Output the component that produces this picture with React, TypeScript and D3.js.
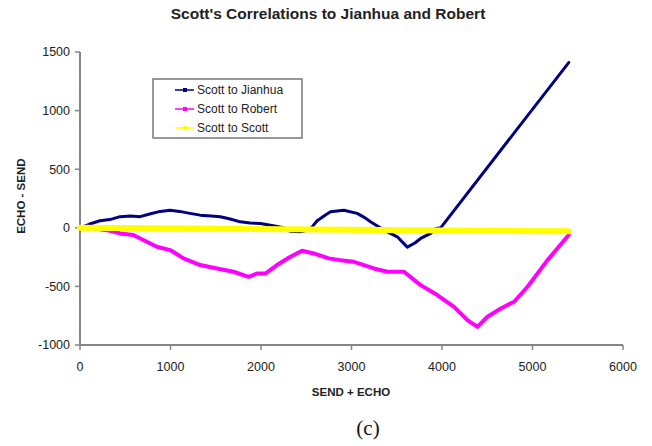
import React from "react";
import * as d3 from "d3";

const title = "Scott's Correlations to Jianhua and Robert";
const xTicks = [0, 1000, 2000, 3000, 4000, 5000, 6000];
const yTicks = [-1000, -500, 0, 500, 1000, 1500];
const seriesNames = ["Scott to Jianhua", "Scott to Robert", "Scott to Scott"];

const jianhuaX = [0, 100, 220, 330, 443, 560, 664, 780, 886, 996, 1100, 1200, 1328, 1450, 1550, 1660, 1771, 1880, 1993, 2120, 2250, 2325, 2436, 2520, 2565, 2620, 2657, 2712, 2768, 2915, 3063, 3150, 3210, 3358, 3506, 3560, 3617, 3700, 3764, 3875, 3930, 3985, 5400];
const jianhuaY = [0, 30, 60, 70, 95, 100, 95, 120, 140, 150, 140, 125, 108, 100, 94, 75, 51, 40, 37, 20, 0, -30, -34, -20, 8, 60, 80, 110, 137, 150, 123, 85, 51, -20, -77, -120, -165, -130, -91, -48, -5, 0, 1410];

const robertX = [0, 150, 295, 443, 590, 738, 848, 996, 1144, 1328, 1513, 1697, 1864, 1956, 2048, 2177, 2325, 2454, 2583, 2749, 2878, 3026, 3247, 3395, 3580, 3764, 3948, 4133, 4281, 4391, 4502, 4650, 4797, 4945, 5166, 5400];
const robertY = [0, -5, -20, -48, -62, -119, -162, -190, -261, -318, -347, -375, -418, -390, -390, -318, -247, -196, -219, -261, -276, -290, -347, -375, -375, -489, -574, -674, -788, -845, -759, -688, -631, -503, -276, -62];

const scottX = [0, 5400];
const scottY = [0, -30];

const colors = ["#000080", "#ff00ff", "#ffff00"];
const widths = [3, 4, 6];

export default function App() {
  const x = d3.scaleLinear().domain([0, 6000]).range([80, 623]);
  const y = d3.scaleLinear().domain([-1000, 1500]).range([345, 52]);
  const line = d3
    .line<[number, number]>()
    .x((d) => x(d[0]))
    .y((d) => y(d[1]));
  const series = [
    jianhuaX.map((v, i) => [v, jianhuaY[i]] as [number, number]),
    robertX.map((v, i) => [v, robertY[i]] as [number, number]),
    scottX.map((v, i) => [v, scottY[i]] as [number, number]),
  ];
  const font = "'Liberation Sans', Arial, sans-serif";
  const axisColor = "#858585";
  return (
    <svg
      width={652}
      height={446}
      style={{ position: "absolute", left: 0, top: 0, background: "#fff" }}
      fontFamily={font}
    >
      <rect x={0} y={0} width={652} height={446} fill="#fff" />
      <text x={328} y={19} textAnchor="middle" fontSize={15.5} fontWeight="bold" fill="#222">
        {title}
      </text>
      {/* axes */}
      <line x1={x(0)} x2={x(0)} y1={y(1500)} y2={y(-1000)} stroke={axisColor} strokeWidth={2} />
      <line x1={x(0)} x2={x(6000)} y1={y(-1000)} y2={y(-1000)} stroke={axisColor} strokeWidth={2} />
      {yTicks.map((t) => (
        <g key={"y" + t}>
          <line x1={x(0) - 5} x2={x(0)} y1={y(t)} y2={y(t)} stroke={axisColor} strokeWidth={1.5} />
          <text x={70} y={y(t)} dy="0.35em" textAnchor="end" fontSize={12.5} fill="#222">
            {t}
          </text>
        </g>
      ))}
      {xTicks.map((t) => (
        <g key={"x" + t}>
          <line x1={x(t)} x2={x(t)} y1={y(-1000)} y2={y(-1000) + 5} stroke={axisColor} strokeWidth={1.5} />
          <text x={x(t)} y={367} dy="0.35em" textAnchor="middle" fontSize={12.5} fill="#222">
            {t}
          </text>
        </g>
      ))}
      <text x={351} y={392} dy="0.35em" textAnchor="middle" fontSize={11.5} fontWeight="bold" fill="#222">
        SEND + ECHO
      </text>
      <text
        transform={`translate(21,${y(270)}) rotate(-90)`}
        dy="0.35em"
        textAnchor="middle"
        fontSize={11.5}
        fontWeight="bold"
        fill="#222"
      >
        ECHO - SEND
      </text>
      {/* lines */}
      {series.map((s, i) => (
        <path
          key={i}
          d={line(s) || ""}
          fill="none"
          stroke={colors[i]}
          strokeWidth={widths[i]}
          strokeLinejoin="round"
          strokeLinecap="round"
        />
      ))}
      {/* legend */}
      <rect x={153} y={79} width={149} height={59} fill="#fff" stroke="#777" strokeWidth={1.5} />
      {seriesNames.map((n, i) => {
        const ly = 90 + i * 19;
        return (
          <g key={n}>
            <line x1={175} x2={194} y1={ly} y2={ly} stroke={colors[i]} strokeWidth={1.5} />
            <rect x={183} y={ly - 2} width={4} height={4} fill={colors[i]} />
            <text x={197} y={ly} dy="0.35em" fontSize={12} fill="#222">
              {n}
            </text>
          </g>
        );
      })}
      <text x={368} y={428} dy="0.35em" textAnchor="middle" fontSize={21} fontFamily="'Liberation Serif', 'Times New Roman', serif" fill="#111">
        (c)
      </text>
    </svg>
  );
}
